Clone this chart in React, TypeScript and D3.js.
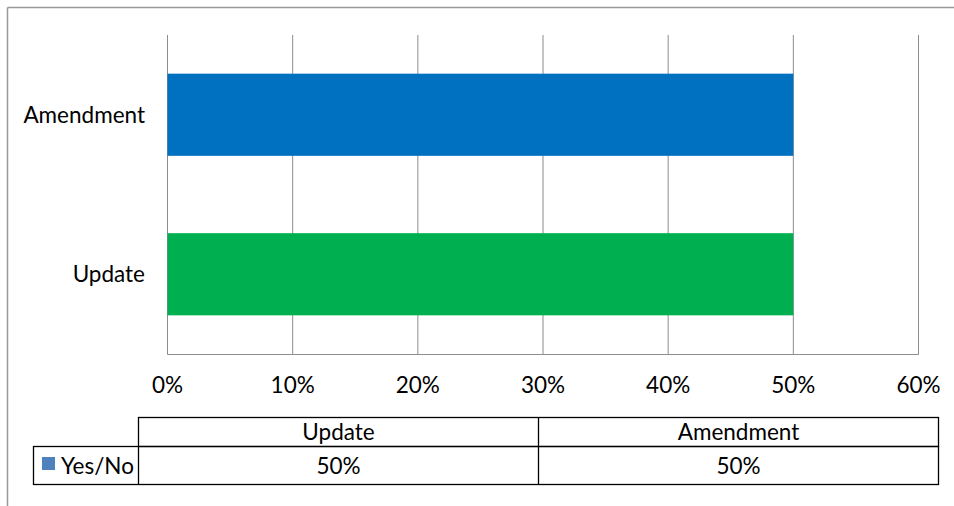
import React from 'react';
import { scaleBand, scaleLinear, range } from 'd3';

// chart data
const categories = ['Update', 'Amendment'];
const seriesName = 'Yes/No';
const values = [0.5, 0.5];
const barColors = ['#00B050', '#0070C0'];
const legendColor = '#4F81BD';
const tickValues = range(0, 0.61, 0.1);

const W = 954;
const H = 506;
const font = 'Lato, "Open Sans", sans-serif';
const fontSize = 22.5;
const gridColor = '#8c8c8c';

const App = () => {
    // X Scale (percent)
    const x = scaleLinear().domain([0, 0.6]).range([167.5, 918.5]);
    // Y Scale: first category at the bottom
    const y = scaleBand()
        .domain([...categories].reverse())
        .range([35, 354])
        .paddingInner(0.485)
        .paddingOuter(0.2425);
    // data table columns
    const col = scaleBand().domain(categories).range([138.5, 938.5]);

    const rowTop = 417.5;
    const rowMid = 446.5;
    const rowBot = 484.5;

    return (
        <svg width={W} height={H} style={{ position: 'absolute', left: 0, top: 0, background: '#fff' }}
            fontFamily={font}>
            {/* outer frame */}
            <line x1={7.5} x2={W} y1={7.5} y2={7.5} stroke="#999" strokeWidth={1.5} />
            <line x1={7.5} x2={7.5} y1={7.5} y2={H} stroke="#999" strokeWidth={1.5} />

            {/* gridlines */}
            {tickValues.map((t) => (
                <line key={t} x1={x(t)} x2={x(t)} y1={35} y2={354.5} stroke={gridColor} strokeWidth={1} />
            ))}
            <line x1={x(0)} x2={x(0.6)} y1={354.5} y2={354.5} stroke={gridColor} strokeWidth={1} />

            {/* bars */}
            {categories.map((c, i) => (
                <rect key={c} x={x(0)} y={y(c)} width={x(values[i]) - x(0)} height={y.bandwidth()}
                    fill={barColors[i]} />
            ))}

            {/* category labels */}
            {categories.map((c) => (
                <text key={c} x={145} y={(y(c) as number) + y.bandwidth() / 2} dy="0.36em"
                    textAnchor="end" fontSize={fontSize} fill="#000">{c}</text>
            ))}

            {/* tick labels */}
            {tickValues.map((t) => (
                <text key={t} x={x(t)} y={393} textAnchor="middle" fontSize={fontSize} fill="#000">
                    {Math.round(t * 100) + '%'}
                </text>
            ))}

            {/* data table */}
            <g stroke="#000" strokeWidth={1.3} fill="none">
                <rect x={138.5} y={rowTop} width={800} height={rowMid - rowTop} />
                <rect x={33.5} y={rowMid} width={905} height={rowBot - rowMid} />
                <line x1={138.5} x2={138.5} y1={rowMid} y2={rowBot} />
                {categories.slice(1).map((c) => (
                    <line key={c} x1={col(c)} x2={col(c)} y1={rowTop} y2={rowBot} />
                ))}
            </g>
            {categories.map((c, i) => (
                <g key={c}>
                    <text x={(col(c) as number) + col.bandwidth() / 2} y={(rowTop + rowMid) / 2} dy="0.36em"
                        textAnchor="middle" fontSize={fontSize} fill="#000">{c}</text>
                    <text x={(col(c) as number) + col.bandwidth() / 2} y={(rowMid + rowBot) / 2} dy="0.36em"
                        textAnchor="middle" fontSize={fontSize} fill="#000">{Math.round(values[i] * 100) + '%'}</text>
                </g>
            ))}
            <rect x={42} y={457} width={13} height={13} fill={legendColor} />
            <text x={61} y={(rowMid + rowBot) / 2} dy="0.36em" fontSize={fontSize} fill="#000">{seriesName}</text>
        </svg>
    );
};

export default App;
